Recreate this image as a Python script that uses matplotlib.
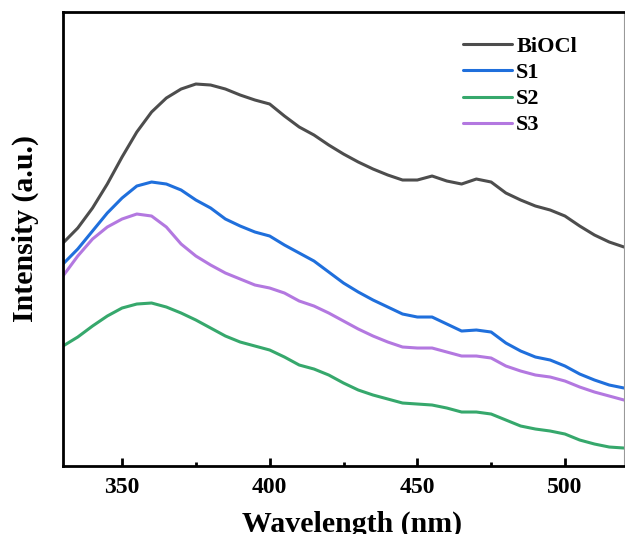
import numpy as np
import matplotlib.pyplot as plt
from matplotlib.ticker import MultipleLocator

# ── Data (arbitrary intensity units) ─────────────────────────────────────────
wavelength = np.arange(330, 521, 5)

biocl = [223, 238, 258, 282, 309, 334, 354, 368, 377, 382, 381, 377, 371, 366,
         362, 350, 339, 331, 321, 312, 304, 297, 291, 286, 286, 290, 285, 282,
         287, 284, 273, 266, 260, 256, 250, 240, 231, 224, 219]
s1 = [202, 217, 235, 253, 268, 280, 284, 282, 276, 266, 258, 247, 240, 234,
      230, 221, 213, 205, 194, 183, 174, 166, 159, 152, 149, 149, 142, 135,
      136, 134, 123, 115, 109, 106, 100, 92, 86, 81, 78]
s2 = [120, 129, 140, 150, 158, 162, 163, 159, 153, 146, 138, 130, 124, 120,
      116, 109, 101, 97, 91, 83, 76, 71, 67, 63, 62, 61, 58, 54,
      54, 52, 46, 40, 37, 35, 32, 26, 22, 19, 18]
s3 = [190, 210, 227, 239, 247, 252, 250, 239, 222, 210, 201, 193, 187, 181,
      178, 173, 165, 160, 153, 145, 137, 130, 124, 119, 118, 118, 114, 110,
      110, 108, 100, 95, 91, 89, 85, 79, 74, 70, 66]

labels = ["BiOCl", "S1", "S2", "S3"]
colors = ["#4d4d4d", "#1f6fdc", "#36a86c", "#b378e0"]

plt.rcParams["font.family"] = ["Liberation Serif", "DejaVu Serif"]
plt.rcParams["font.weight"] = "bold"

fig = plt.figure(figsize=(6.25, 5.34), dpi=100)
ax = fig.add_axes([0.1008, 0.1273, 0.8976, 0.8502])

for y, lab, c in zip([biocl, s1, s2, s3], labels, colors):
    ax.plot(wavelength, y, color=c, lw=2.2, label=lab,
            solid_joinstyle="round", solid_capstyle="round")

ax.set_xlim(330, 520)
ax.set_ylim(0, 454)
ax.xaxis.set_major_locator(MultipleLocator(50))
ax.xaxis.set_minor_locator(MultipleLocator(25))
ax.set_yticks([])
ax.tick_params(axis="x", which="major", direction="in", length=6, width=2,
               labelsize=17, pad=8)
ax.tick_params(axis="x", which="minor", direction="in", length=3, width=2)
for lbl in ax.get_xticklabels():
    lbl.set_fontweight("bold")
for sp in ax.spines.values():
    sp.set_linewidth(2)
ax.spines["right"].set_linewidth(0.8)
ax.spines["right"].set_color("#999999")

ax.set_xlabel("Wavelength (nm)", fontsize=21.5, fontweight="bold", labelpad=9)
ax.set_ylabel("Intensity (a.u.)", fontsize=21.5, fontweight="bold", labelpad=17)
ax.xaxis.label.set_x(0.515)
ax.yaxis.label.set_y(0.524)

leg = ax.legend(loc="upper left", bbox_to_anchor=(0.677, 0.99), frameon=False,
                fontsize=16, handlelength=2.2, handletextpad=0.2,
                labelspacing=0.25)
for t in leg.get_texts():
    t.set_fontweight("bold")

fig.savefig("out.png", dpi=100)
